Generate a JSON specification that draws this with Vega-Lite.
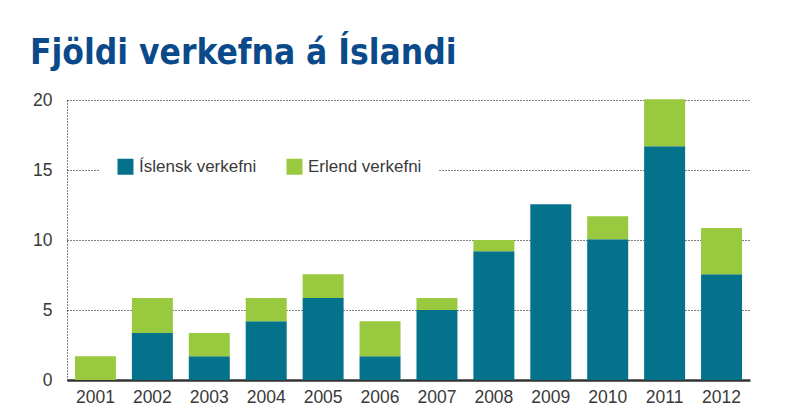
{
  "$schema": "https://vega.github.io/schema/vega-lite/v6.json",
  "autosize": "none",
  "width": 683,
  "height": 280,
  "padding": {"left": 67, "top": 100, "right": 36, "bottom": 30},
  "background": "white",
  "title": {
    "text": "Fjöldi verkefna á Íslandi",
    "anchor": "start",
    "frame": "group",
    "dx": -37,
    "dy": 36,
    "offset": 28,
    "baseline": "alphabetic",
    "font": "DejaVu Sans Condensed, Liberation Sans Narrow, Roboto, sans-serif",
    "fontSize": 35,
    "fontWeight": "bold",
    "color": "#0a4a8a"
  },
  "data": {
    "values": [
      {"year": "2001", "type": "Íslensk verkefni", "count": 0},
      {"year": "2001", "type": "Erlend verkefni", "count": 1.7},
      {"year": "2002", "type": "Íslensk verkefni", "count": 3.35},
      {"year": "2002", "type": "Erlend verkefni", "count": 2.5},
      {"year": "2003", "type": "Íslensk verkefni", "count": 1.7},
      {"year": "2003", "type": "Erlend verkefni", "count": 1.65},
      {"year": "2004", "type": "Íslensk verkefni", "count": 4.2},
      {"year": "2004", "type": "Erlend verkefni", "count": 1.65},
      {"year": "2005", "type": "Íslensk verkefni", "count": 5.85},
      {"year": "2005", "type": "Erlend verkefni", "count": 1.7},
      {"year": "2006", "type": "Íslensk verkefni", "count": 1.7},
      {"year": "2006", "type": "Erlend verkefni", "count": 2.5},
      {"year": "2007", "type": "Íslensk verkefni", "count": 5.0},
      {"year": "2007", "type": "Erlend verkefni", "count": 0.85},
      {"year": "2008", "type": "Íslensk verkefni", "count": 9.2},
      {"year": "2008", "type": "Erlend verkefni", "count": 0.8},
      {"year": "2009", "type": "Íslensk verkefni", "count": 12.55},
      {"year": "2009", "type": "Erlend verkefni", "count": 0},
      {"year": "2010", "type": "Íslensk verkefni", "count": 10.05},
      {"year": "2010", "type": "Erlend verkefni", "count": 1.65},
      {"year": "2011", "type": "Íslensk verkefni", "count": 16.7},
      {"year": "2011", "type": "Erlend verkefni", "count": 3.35},
      {"year": "2012", "type": "Íslensk verkefni", "count": 7.55},
      {"year": "2012", "type": "Erlend verkefni", "count": 3.3}
    ]
  },
  "mark": {"type": "bar"},
  "encoding": {
    "x": {
      "field": "year",
      "type": "ordinal",
      "scale": {"paddingInner": 0.28, "paddingOuter": 0.14},
      "axis": {
        "title": null,
        "labelAngle": 0,
        "ticks": false,
        "domainWidth": 2.5,
        "domainColor": "#333333",
        "labelPadding": 8,
        "labelFontSize": 17.5,
        "labelFont": "Liberation Sans",
        "labelColor": "#3a3a3a",
        "grid": false
      }
    },
    "y": {
      "field": "count",
      "type": "quantitative",
      "stack": "zero",
      "scale": {"domain": [0, 20], "nice": false},
      "axis": {
        "title": null,
        "values": [0, 5, 10, 15, 20],
        "ticks": false,
        "labelPadding": 15,
        "labelFontSize": 17.5,
        "labelFont": "Liberation Sans",
        "labelColor": "#3a3a3a",
        "domainColor": "#000000",
        "domainDash": [1, 2],
        "grid": true,
        "gridColor": "#000000",
        "gridDash": [1, 2],
        "gridOpacity": 1
      }
    },
    "color": {
      "field": "type",
      "type": "nominal",
      "scale": {
        "domain": ["Íslensk verkefni", "Erlend verkefni"],
        "range": ["#04728a", "#98c93f"]
      },
      "legend": {
        "title": null,
        "orient": "none",
        "legendX": 33,
        "legendY": 41,
        "direction": "horizontal",
        "fillColor": "white",
        "padding": 17,
        "symbolType": "square",
        "symbolSize": 256,
        "symbolStrokeWidth": 0,
        "symbolOpacity": 1,
        "labelFontSize": 17,
        "labelFont": "Liberation Sans",
        "labelColor": "#3a3a3a",
        "labelOffset": 5,
        "columnPadding": 29
      }
    },
    "order": {"field": "type", "sort": "descending"}
  },
  "config": {
    "view": {"stroke": null}
  }
}
